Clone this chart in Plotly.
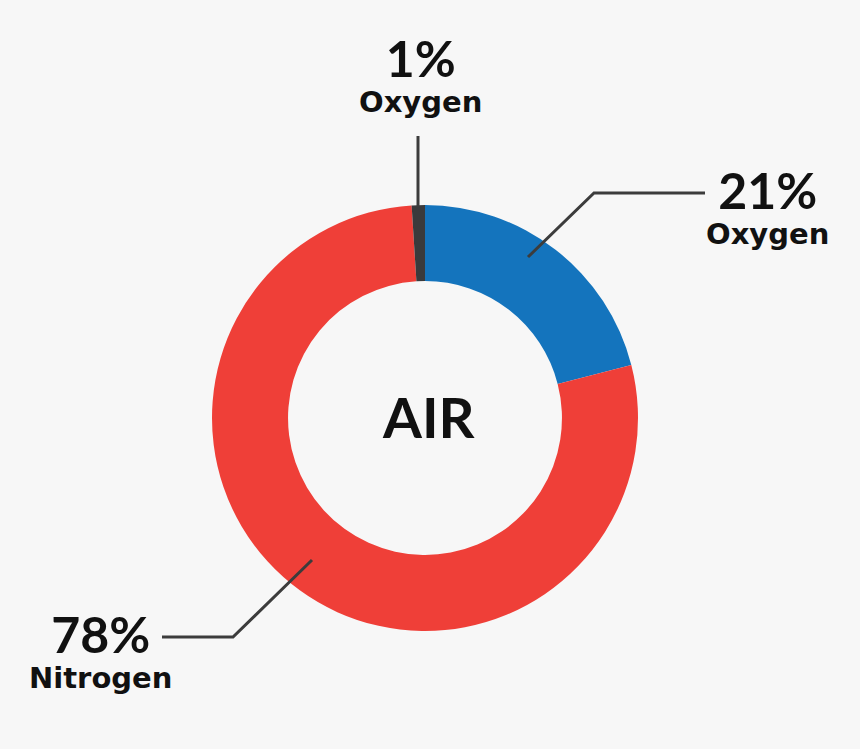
import plotly.graph_objects as go

# Data
labels = ["Oxygen", "Nitrogen", "Other"]
values = [21, 78, 1]
pct_text = ["21%", "78%", "1%"]
name_text = ["Oxygen", "Nitrogen", "Oxygen"]
center_title = "AIR"

colors = ["#1474BD", "#EF3F38", "#3A3A3C"]
BG = "#F7F7F7"
W, H = 860, 749
CX, CY, R = 425, 418, 213

fig = go.Figure()
fig.add_trace(go.Pie(
    labels=labels, values=values, sort=False, direction="clockwise", rotation=0,
    hole=0.643, textinfo="none", hoverinfo="label+percent",
    marker=dict(colors=colors, line=dict(width=0)),
    domain=dict(x=[(CX - R) / W, (CX + R) / W], y=[(H - CY - R) / H, (H - CY + R) / H]),
    showlegend=False,
))

# label layout (pixel coordinates): leader polyline, block centre, line-gap base size
label_layout = [
    dict(line=[(528, 257), (594, 193), (705, 193)], pos=(767, 205), base=27),
    dict(line=[(312, 560), (233, 637), (162, 637)], pos=(100, 649), base=27),
    dict(line=[(418, 207), (418, 136)], pos=(420, 73), base=27),
]

PCT_STYLE = "font-family:Lato;font-size:50px"
NAME_STYLE = "font-family:DejaVu Sans;font-size:29px"

for i, lay in enumerate(label_layout):
    pts = lay["line"]
    path = "M " + " L ".join(f"{x},{y}" for x, y in pts)
    fig.add_shape(type="path", path=path, xref="x", yref="y",
                  line=dict(color="#3C3C3C", width=3))
    txt = (f"<span style='{PCT_STYLE}'><b>{pct_text[i]}</b></span><br>"
           f"<span style='{NAME_STYLE}'><b>{name_text[i]}</b></span>")
    fig.add_annotation(x=lay["pos"][0], y=lay["pos"][1], xref="x", yref="y",
                       text=txt, showarrow=False, align="center",
                       font=dict(family="Lato", size=lay["base"], color="#111111"),
                       xanchor="center", yanchor="middle")

fig.add_annotation(x=428, y=416, xref="x", yref="y", text=f"<b>{center_title}</b>",
                   showarrow=False, font=dict(family="Lato", size=56, color="#111111"),
                   xanchor="center", yanchor="middle")

fig.update_layout(
    width=W, height=H, margin=dict(l=0, r=0, t=0, b=0),
    paper_bgcolor=BG, plot_bgcolor="rgba(0,0,0,0)",
    xaxis=dict(range=[0, W], visible=False, fixedrange=True),
    yaxis=dict(range=[H, 0], visible=False, fixedrange=True),
)

fig.write_html("out.html", config={"displayModeBar": False},
               post_script="document.body.style.margin='0';"
                           "document.body.style.background='#F7F7F7';"
                           "document.body.style.overflow='hidden';")
